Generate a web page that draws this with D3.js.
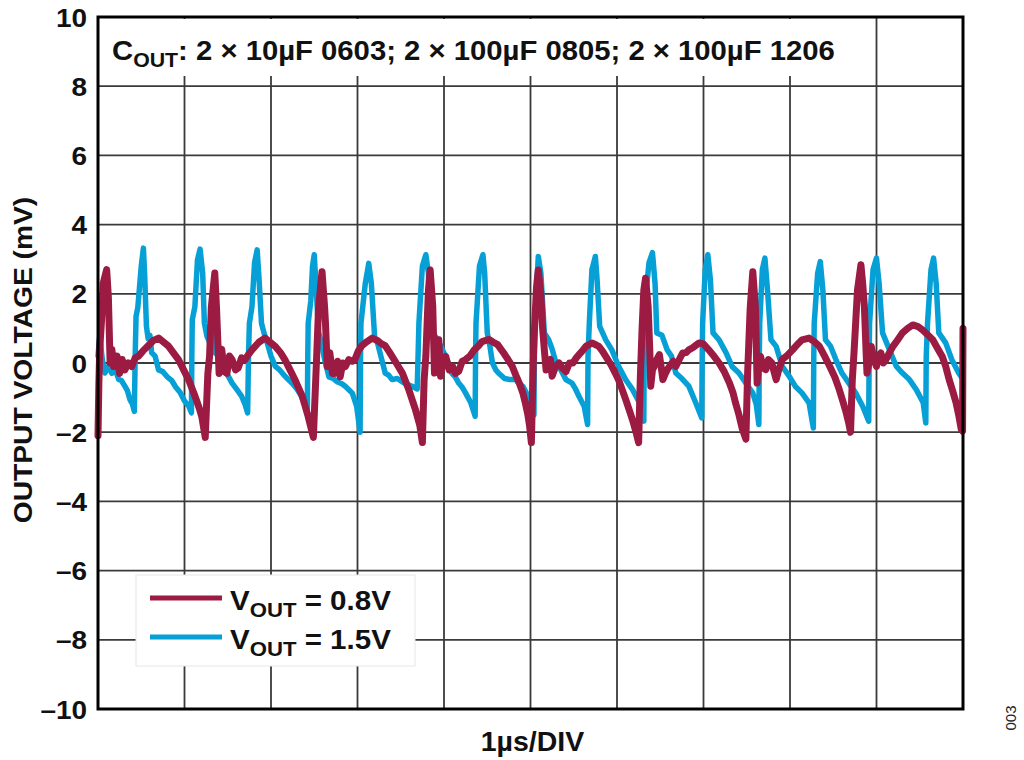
<!DOCTYPE html>
<html>
<head>
<meta charset="utf-8">
<script src="https://cdn.jsdelivr.net/npm/d3@7"></script>
<style>
  html, body { margin: 0; padding: 0; background: #fff; }
  svg { display: block; font-family: "Liberation Sans", Arial, sans-serif; font-weight: bold; }
</style>
</head>
<body>
<div id="chart"></div>
<script>
// Axis ticks (time in µs, voltage in mV)
const timeDivs = [0, 1, 2, 3, 4, 5, 6, 7, 8, 9, 10];
const voltTicks = [10, 8, 6, 4, 2, 0, -2, -4, -6, -8, -10];
const voltTickLabels = ['10', '8', '6', '4', '2', '0', '–2', '–4', '–6', '–8', '–10'];

// Legend entries
const seriesLabels = ['0.8V', '1.5V'];
const seriesColors = ['#9b1b42', '#07a0d6'];

// VOUT = 0.8V trace, [µs, mV]
const vout08 = [
  [0.00, -2.1], [0.01, -0.6], [0.02, 0.4], [0.04, 1.2], [0.06, 2.3], [0.10, 2.7], [0.12, 1.9], [0.14, 0.0],
  [0.16, 0.4], [0.18, -0.1], [0.22, 0.2], [0.25, -0.3], [0.28, 0.1], [0.31, -0.2], [0.35, 0.0], [0.39, -0.1],
  [0.43, 0.15], [0.47, 0.2], [0.52, 0.35], [0.58, 0.5], [0.64, 0.65], [0.70, 0.72], [0.76, 0.6], [0.81, 0.5],
  [0.87, 0.3], [0.93, 0.1], [0.99, -0.2], [1.05, -0.5], [1.12, -0.95], [1.17, -1.3], [1.20, -1.55], [1.24, -2.15],
  [1.27, -0.3], [1.29, 0.2], [1.31, 1.6], [1.35, 2.6], [1.37, 1.6], [1.40, -0.3], [1.43, 0.4], [1.46, -0.25],
  [1.49, -0.3], [1.52, 0.2], [1.55, 0.1], [1.59, -0.2], [1.62, -0.15], [1.66, 0.15], [1.70, 0.1], [1.74, 0.25],
  [1.78, 0.38], [1.86, 0.6], [1.93, 0.72], [1.99, 0.6], [2.05, 0.48], [2.11, 0.3], [2.16, 0.1], [2.22, -0.2],
  [2.28, -0.5], [2.36, -0.95], [2.43, -1.55], [2.49, -2.15],
  [2.52, -0.3], [2.55, 1.6], [2.59, 2.64], [2.62, 1.6], [2.63, 1.15], [2.65, -0.1], [2.68, 0.3], [2.71, -0.3],
  [2.74, -0.3], [2.77, 0.05], [2.80, -0.4], [2.83, 0.0], [2.86, -0.1], [2.90, 0.1], [2.94, 0.05], [2.97, 0.1],
  [3.01, 0.35], [3.05, 0.5], [3.11, 0.62], [3.17, 0.72], [3.23, 0.65], [3.28, 0.55], [3.32, 0.5], [3.36, 0.35],
  [3.40, 0.19], [3.46, -0.05], [3.52, -0.3], [3.59, -0.75], [3.67, -1.35], [3.72, -1.8], [3.75, -2.3],
  [3.77, -0.5], [3.79, 0.2], [3.82, 2.1], [3.84, 2.69], [3.87, 1.63], [3.89, -0.29], [3.92, 0.2], [3.94, 0.67],
  [3.96, -0.38], [3.99, 0.1], [4.02, 0.19], [4.06, -0.2], [4.10, -0.1], [4.13, -0.3], [4.17, -0.24], [4.21, 0.05],
  [4.25, 0.1], [4.30, 0.2], [4.35, 0.38], [4.40, 0.5], [4.44, 0.62], [4.52, 0.68], [4.57, 0.6], [4.62, 0.53],
  [4.69, 0.29], [4.74, 0.1], [4.79, -0.1], [4.83, -0.35], [4.87, -0.58], [4.91, -0.85], [4.94, -1.15], [4.97, -1.5],
  [4.99, -1.83], [5.01, -2.3],
  [5.03, -0.2], [5.04, 0.67], [5.07, 2.2], [5.09, 2.69], [5.12, 2.0], [5.14, 1.0], [5.16, 0.38], [5.18, -0.2],
  [5.21, 0.05], [5.23, 0.1], [5.25, -0.38], [5.29, -0.1], [5.33, 0.0], [5.37, -0.15], [5.41, -0.25], [5.45, 0.0],
  [5.49, 0.0], [5.53, 0.15], [5.56, 0.24], [5.60, 0.35], [5.64, 0.48], [5.71, 0.58], [5.76, 0.52], [5.79, 0.48],
  [5.83, 0.35], [5.87, 0.19], [5.93, -0.05], [5.98, -0.29], [6.02, -0.5], [6.06, -0.77], [6.10, -1.05], [6.14, -1.35],
  [6.18, -1.65], [6.22, -2.0], [6.25, -2.3],
  [6.27, -0.4], [6.29, 1.0], [6.31, 2.1], [6.33, 2.45], [6.36, 1.63], [6.38, 0.3], [6.39, -0.67], [6.41, -0.2],
  [6.43, -0.1], [6.46, 0.1], [6.49, 0.24], [6.51, -0.1], [6.53, -0.48], [6.56, -0.3], [6.58, -0.2], [6.62, -0.05],
  [6.65, 0.05], [6.68, -0.1], [6.72, 0.1], [6.76, 0.29], [6.80, 0.3], [6.83, 0.38], [6.88, 0.45], [6.95, 0.58],
  [7.00, 0.55], [7.06, 0.38], [7.12, 0.2], [7.18, 0.0], [7.24, -0.25], [7.30, -0.58], [7.34, -0.85], [7.37, -1.15],
  [7.41, -1.5], [7.45, -1.92], [7.49, -2.2],
  [7.51, -0.3], [7.54, 1.6], [7.57, 2.64], [7.60, 1.6], [7.61, 0.5], [7.62, -0.58], [7.64, 0.0], [7.66, 0.19],
  [7.69, -0.15], [7.72, -0.19], [7.75, 0.1], [7.79, 0.0], [7.81, -0.2], [7.84, -0.48], [7.87, -0.2], [7.91, 0.1],
  [7.96, 0.2], [8.03, 0.38], [8.09, 0.55], [8.14, 0.67], [8.22, 0.72], [8.28, 0.62], [8.34, 0.48], [8.40, 0.2],
  [8.46, -0.1], [8.52, -0.42], [8.57, -0.77], [8.61, -1.1], [8.65, -1.44], [8.68, -1.75], [8.70, -2.0],
  [8.72, -0.5], [8.74, 0.3], [8.76, 1.2], [8.78, 2.1], [8.82, 2.84], [8.84, 2.3], [8.86, 1.63], [8.88, 0.3],
  [8.89, -0.29], [8.92, 0.1], [8.94, 0.48], [8.97, 0.1], [9.00, -0.1], [9.02, 0.2], [9.05, 0.29], [9.08, 0.0],
  [9.11, 0.1], [9.15, 0.3], [9.19, 0.48], [9.24, 0.65], [9.30, 0.87], [9.36, 1.0], [9.42, 1.1], [9.48, 1.05],
  [9.53, 0.96], [9.59, 0.82], [9.65, 0.67], [9.70, 0.45], [9.76, 0.19], [9.80, -0.1], [9.84, -0.48], [9.88, -0.8],
  [9.92, -1.15], [9.95, -1.5], [9.98, -1.92], [9.995, -1.97], [10.0, 1.0]
];

// VOUT = 1.5V trace, [µs, mV]
const vout15 = [
  [0.00, 0.2], [0.02, 0.77], [0.05, 0.1], [0.08, -0.29], [0.12, -0.1], [0.16, -0.3], [0.20, -0.2], [0.24, -0.48],
  [0.27, -0.5], [0.31, -0.67], [0.34, -0.8], [0.37, -1.06], [0.40, -1.2], [0.42, -1.4],
  [0.43, 0.2], [0.44, 1.35], [0.46, 1.6], [0.48, 2.2], [0.50, 2.8], [0.525, 3.32], [0.54, 2.5], [0.56, 1.06],
  [0.58, 0.7], [0.60, 0.8], [0.62, 0.3], [0.66, 0.2], [0.70, -0.2], [0.75, -0.25], [0.80, -0.4], [0.85, -0.5],
  [0.90, -0.7], [0.95, -0.85], [1.00, -1.1], [1.05, -1.25], [1.08, -1.44],
  [1.085, 0.2], [1.09, 1.25], [1.12, 1.63], [1.15, 2.98], [1.18, 3.29], [1.21, 2.6], [1.23, 1.15], [1.26, 0.77],
  [1.29, 0.6], [1.32, 0.9], [1.35, 0.3], [1.40, 0.2], [1.45, -0.2], [1.50, -0.35], [1.55, -0.58], [1.60, -0.75],
  [1.66, -0.96], [1.70, -1.2], [1.73, -1.44],
  [1.74, 0.2], [1.75, 1.15], [1.78, 1.63], [1.81, 2.9], [1.84, 3.27], [1.86, 2.5], [1.89, 1.15], [1.93, 0.77],
  [1.96, 0.55], [2.00, 0.2], [2.05, -0.1], [2.10, -0.2], [2.15, -0.35], [2.20, -0.48], [2.25, -0.6], [2.30, -0.75],
  [2.35, -0.95], [2.40, -1.25], [2.42, -1.4],
  [2.425, 0.2], [2.43, 1.15], [2.46, 1.8], [2.48, 2.8], [2.50, 3.13], [2.53, 1.8], [2.55, 0.9], [2.58, 0.6],
  [2.62, 0.1], [2.67, -0.4], [2.72, -0.45], [2.77, -0.55], [2.82, -0.6], [2.87, -0.7], [2.94, -0.87], [2.99, -1.25],
  [3.03, -2.0],
  [3.035, 0.2], [3.04, 1.15], [3.09, 2.3], [3.13, 2.88], [3.16, 2.3], [3.20, 0.67], [3.23, 0.6], [3.27, 0.2],
  [3.32, -0.29], [3.36, -0.35], [3.40, -0.48], [3.46, -0.45], [3.52, -0.55], [3.58, -0.62], [3.63, -0.67], [3.69, -0.75],
  [3.71, 1.15], [3.75, 2.8], [3.79, 3.13], [3.82, 2.6], [3.84, 1.15], [3.87, 0.77], [3.90, 0.77], [3.94, 0.6],
  [4.00, 0.29], [4.05, 0.0], [4.09, -0.29], [4.13, -0.4], [4.17, -0.58], [4.21, -0.7], [4.25, -0.87], [4.31, -1.15],
  [4.36, -1.54],
  [4.365, 0.2], [4.37, 1.15], [4.41, 2.8], [4.45, 3.13], [4.47, 2.6], [4.50, 0.87], [4.53, 0.5], [4.56, 0.0],
  [4.60, -0.2], [4.63, -0.29], [4.70, -0.45], [4.76, -0.48], [4.83, -0.48], [4.87, -0.6], [4.91, -0.67], [4.96, -0.9],
  [5.02, -1.25], [5.04, -1.5],
  [5.045, 0.3], [5.06, 1.63], [5.09, 3.08], [5.12, 2.6], [5.16, 0.87], [5.21, 0.67], [5.25, 0.4], [5.29, 0.05],
  [5.34, -0.15], [5.41, -0.48], [5.48, -0.58], [5.52, -0.75], [5.56, -0.96], [5.62, -1.25], [5.66, -1.78],
  [5.665, 0.2], [5.68, 1.15], [5.71, 2.7], [5.75, 3.08], [5.77, 2.4], [5.80, 1.06], [5.87, 0.67], [5.94, 0.38],
  [6.02, -0.1], [6.10, -0.48], [6.18, -0.77], [6.26, -1.15], [6.31, -1.68],
  [6.315, 0.3], [6.32, 1.63], [6.37, 2.9], [6.41, 3.19], [6.44, 2.3], [6.46, 0.87], [6.52, 0.8], [6.58, 0.38],
  [6.63, 0.2], [6.68, -0.29], [6.75, -0.45], [6.83, -0.67], [6.91, -1.15], [6.98, -1.59],
  [6.985, 0.2], [6.99, 1.15], [7.02, 2.7], [7.05, 3.13], [7.08, 2.4], [7.11, 0.87], [7.18, 0.67], [7.26, 0.3],
  [7.33, -0.1], [7.41, -0.29], [7.49, -0.58], [7.57, -0.87], [7.61, -1.2], [7.64, -1.78],
  [7.645, 0.2], [7.65, 1.15], [7.68, 2.7], [7.71, 3.03], [7.74, 2.1], [7.78, 0.67], [7.84, 0.48], [7.91, -0.1],
  [7.99, -0.38], [8.06, -0.67], [8.14, -0.87], [8.22, -1.15], [8.27, -1.88],
  [8.275, 0.2], [8.28, 1.15], [8.32, 2.6], [8.35, 2.93], [8.38, 2.1], [8.41, 0.67], [8.47, 0.48], [8.53, 0.1],
  [8.60, -0.29], [8.68, -0.58], [8.76, -0.87], [8.84, -1.25], [8.91, -1.68],
  [8.915, 0.2], [8.92, 1.15], [8.96, 2.7], [9.00, 3.03], [9.03, 2.3], [9.07, 0.87], [9.15, 0.38], [9.23, -0.1],
  [9.30, -0.29], [9.38, -0.48], [9.46, -0.77], [9.54, -1.15], [9.57, -1.73],
  [9.575, 0.2], [9.59, 1.15], [9.63, 2.7], [9.66, 3.03], [9.69, 2.3], [9.72, 0.87], [9.80, 0.58], [9.87, 0.1],
  [9.95, -0.29], [10.0, -0.48]
];

const width = 1024;
const height = 760;
const plot = { left: 98, right: 963, top: 17, bottom: 709 };
// the original lettering runs a bit wider than Liberation Sans
const stretch = 1.055;

const svg = d3.select('#chart')
  .append('svg')
  .attr('width', width)
  .attr('height', height)
  .attr('viewBox', `0 0 ${width} ${height}`);

const x = d3.scaleLinear().domain([0, 10]).range([plot.left, plot.right]);
const y = d3.scaleLinear().domain([-10, 10]).range([plot.bottom, plot.top]);

// Grid
const grid = svg.append('g').attr('stroke', '#3a3a3a').attr('stroke-width', 1.8);

grid.selectAll('line.v')
  .data(timeDivs.slice(1, -1))
  .join('line')
  .attr('class', 'v')
  .attr('x1', d => x(d)).attr('x2', d => x(d))
  .attr('y1', plot.top).attr('y2', plot.bottom);

grid.selectAll('line.h')
  .data(voltTicks.slice(1, -1))
  .join('line')
  .attr('class', 'h')
  .attr('x1', plot.left).attr('x2', plot.right)
  .attr('y1', d => y(d)).attr('y2', d => y(d));

// Traces: 1.5V underneath, 0.8V on top
const line = d3.line()
  .x(d => x(d[0]))
  .y(d => y(d[1]));

svg.append('path')
  .datum(vout15)
  .attr('d', line)
  .attr('fill', 'none')
  .attr('stroke', seriesColors[1])
  .attr('stroke-width', 5.5)
  .attr('stroke-linejoin', 'round')
  .attr('stroke-linecap', 'round');

svg.append('path')
  .datum(vout08)
  .attr('d', line)
  .attr('fill', 'none')
  .attr('stroke', seriesColors[0])
  .attr('stroke-width', 7)
  .attr('stroke-linejoin', 'round')
  .attr('stroke-linecap', 'round');

// Annotation box
svg.append('rect')
  .attr('x', plot.left + 2).attr('y', plot.top + 2)
  .attr('width', 706).attr('height', 57)
  .attr('fill', '#fff');

const note = svg.append('text')
  .attr('transform', `translate(112, 60) scale(${stretch + 0.01}, 1)`)
  .attr('font-size', '27.5px')
  .attr('fill', '#111');
note.append('tspan').text('C');
note.append('tspan').attr('font-size', '20px').attr('dy', 7).text('OUT');
note.append('tspan').attr('dy', -7).text(': 2 × 10µF 0603; 2 × 100µF 0805; 2 × 100µF 1206');

// Frame
svg.append('rect')
  .attr('x', plot.left).attr('y', plot.top)
  .attr('width', plot.right - plot.left)
  .attr('height', plot.bottom - plot.top)
  .attr('fill', 'none')
  .attr('stroke', '#000')
  .attr('stroke-width', 3);

// Legend
const legend = svg.append('g');
legend.append('rect')
  .attr('x', 136).attr('y', 575)
  .attr('width', 279).attr('height', 91)
  .attr('fill', '#fff')
  .attr('stroke', '#e6e6e6')
  .attr('stroke-width', 1);

seriesLabels.forEach((label, i) => {
  const ly = 598 + i * 39;
  legend.append('line')
    .attr('x1', 150).attr('x2', 222)
    .attr('y1', ly).attr('y2', ly)
    .attr('stroke', seriesColors[i])
    .attr('stroke-width', 5);

  const t = legend.append('text')
    .attr('transform', `translate(230, ${ly + 12}) scale(${stretch}, 1)`)
    .attr('font-size', '28px')
    .attr('fill', '#111');
  t.append('tspan').text('V');
  t.append('tspan').attr('font-size', '21px').attr('dy', 7).text('OUT');
  t.append('tspan').attr('dy', -7).text(` = ${label}`);
});

// Y tick labels
svg.append('g')
  .selectAll('text')
  .data(voltTicks)
  .join('text')
  .attr('transform', d => `translate(87, ${y(d)}) scale(${stretch}, 1)`)
  .attr('dy', '0.36em')
  .attr('text-anchor', 'end')
  .attr('font-size', '26.5px')
  .attr('fill', '#111')
  .text((d, i) => voltTickLabels[i]);

// Axis titles
svg.append('text')
  .attr('transform', `translate(32, ${(plot.top + plot.bottom) / 2 - 3}) rotate(-90) scale(${stretch + 0.01}, 1)`)
  .attr('text-anchor', 'middle')
  .attr('font-size', '26.5px')
  .attr('fill', '#111')
  .text('OUTPUT VOLTAGE (mV)');

svg.append('text')
  .attr('transform', `translate(${x(5) + 2}, 751) scale(${stretch}, 1)`)
  .attr('text-anchor', 'middle')
  .attr('font-size', '27px')
  .attr('fill', '#111')
  .text('1µs/DIV');

// Figure number
svg.append('text')
  .attr('transform', 'translate(1016, 718) rotate(-90)')
  .attr('text-anchor', 'middle')
  .attr('font-size', '15px')
  .attr('font-weight', 'normal')
  .attr('fill', '#222')
  .text('003');
</script>
</body>
</html>
